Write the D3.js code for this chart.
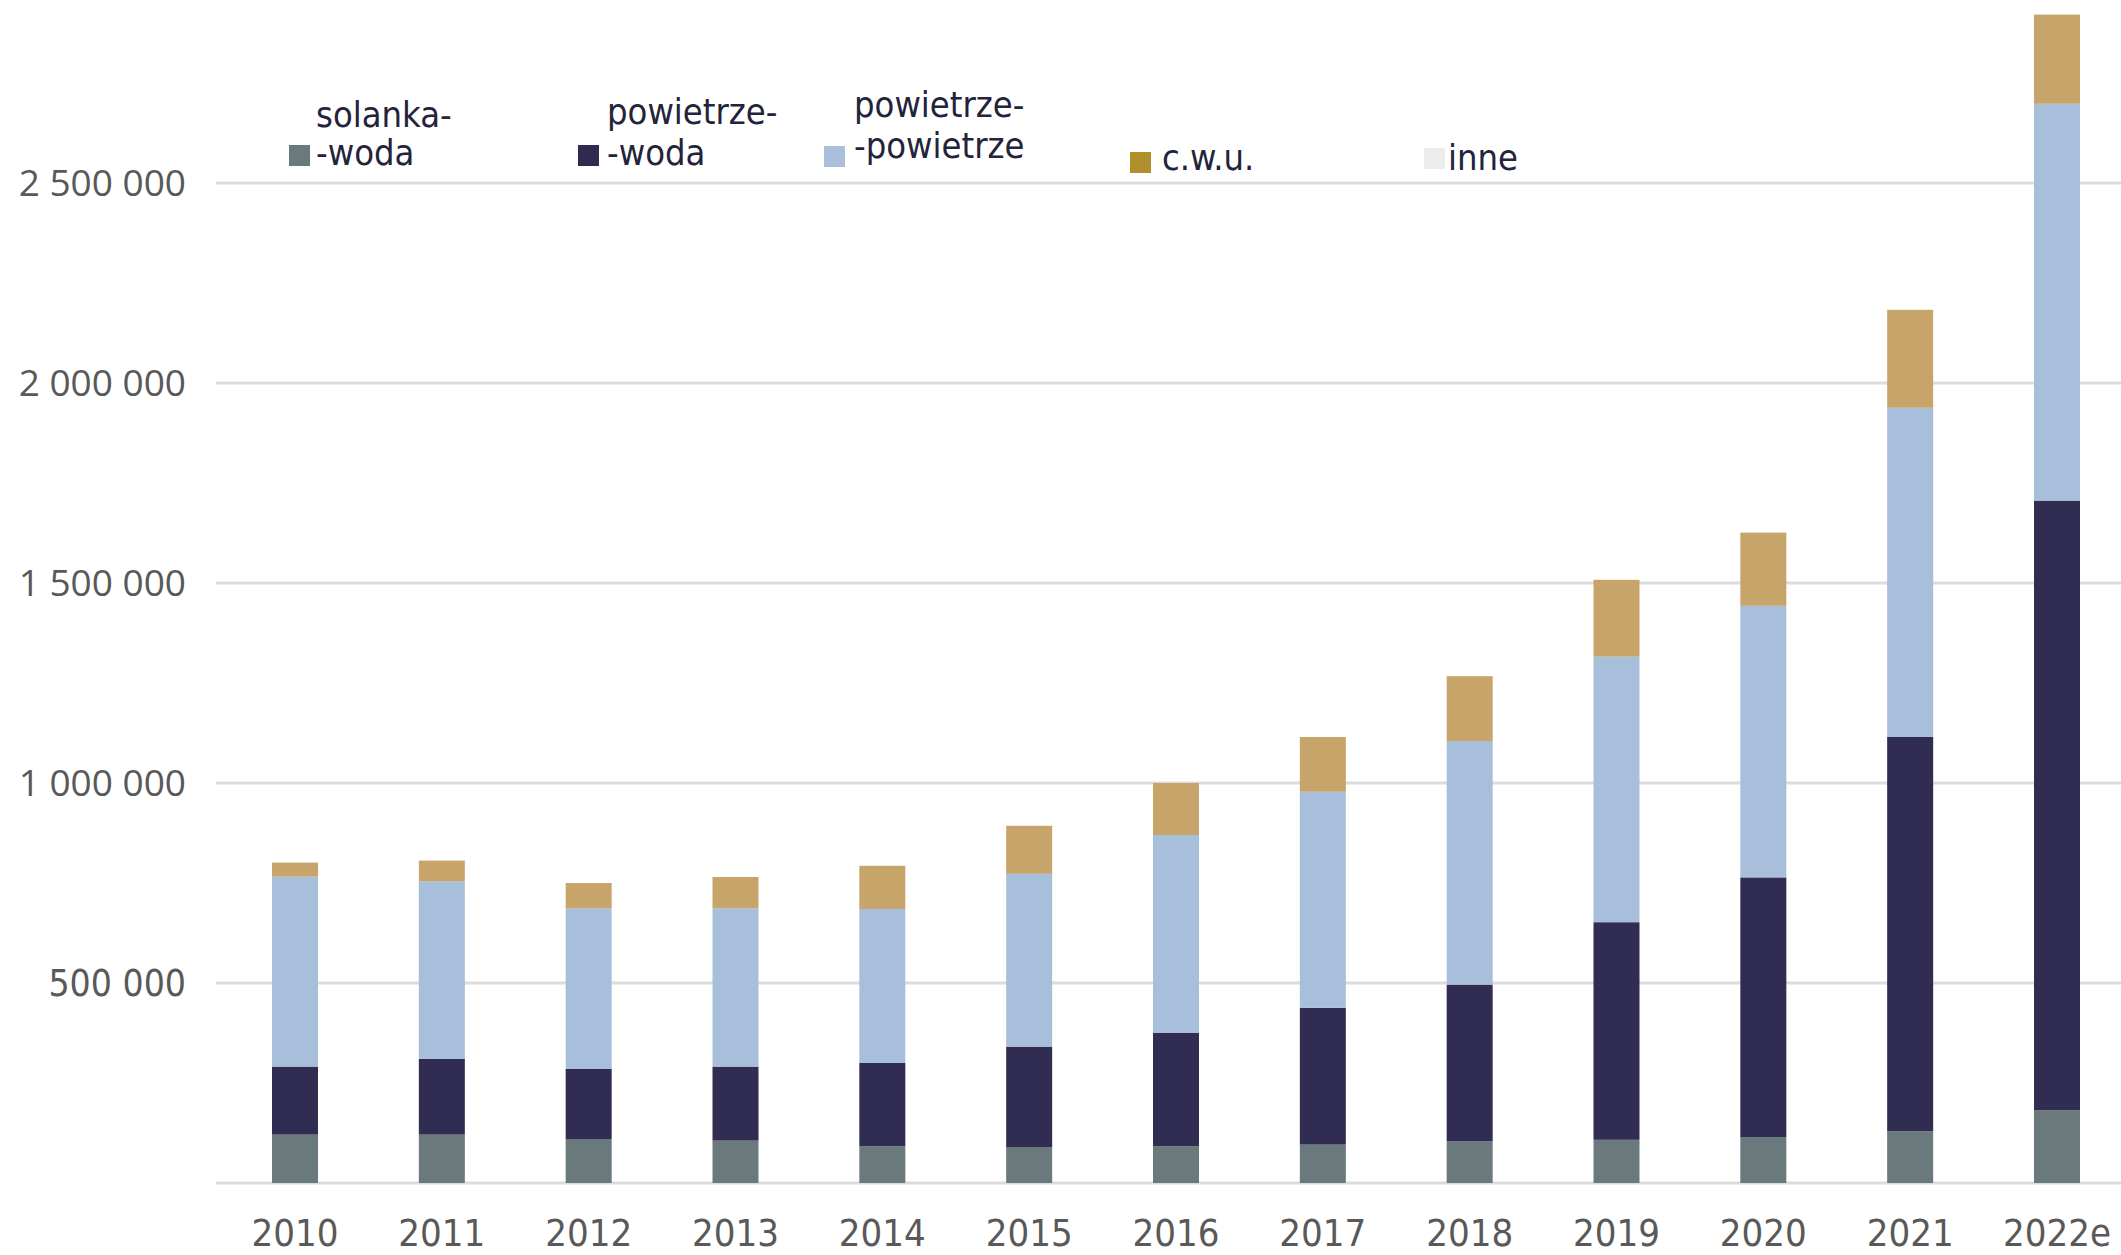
<!DOCTYPE html>
<html>
  <head>
    <meta charset="utf-8" />
    <title>Pompy ciepła – sprzedaż</title>
    <script src="https://d3js.org/d3.v7.min.js"></script>
    <style>
      body {
        margin: 0;
        background: #ffffff;
      }
      .ytick {
        font-family: "Open Sans", "DejaVu Sans", sans-serif;
        font-size: 37px;
        fill: #595959;
      }
      .ytick.narrow,
      .xtick {
        font-family: "Liberation Sans Narrow", "DejaVu Sans Condensed", sans-serif;
        fill: #595959;
      }
      .legend text {
        font-family: "Liberation Sans Narrow", "DejaVu Sans Condensed", sans-serif;
        font-size: 36px;
        fill: #23233a;
      }
    </style>
  </head>
  <body>
    <div id="chart"></div>
    <script>
      // values
      const years = ["2010", "2011", "2012", "2013", "2014", "2015", "2016", "2017", "2018", "2019", "2020", "2021", "2022e"];
      const solankaWoda = [121000, 121000, 110000, 106000, 92000, 90000, 92000, 96000, 104000, 108000, 115000, 129000, 182000];
      const powietrzeWoda = [170000, 189000, 175000, 185000, 208000, 251000, 283000, 342000, 392000, 544000, 649000, 986000, 1524000];
      const powietrzePowietrze = [475000, 444000, 402000, 396000, 385000, 432000, 495000, 540000, 609000, 664000, 679000, 823000, 992000];
      const cwu = [35000, 52000, 63000, 78000, 108000, 120000, 130000, 137000, 162000, 192000, 183000, 245000, 223000];
      const inne = [0, 0, 0, 0, 0, 0, 0, 0, 0, 0, 0, 0, 0];
      const yTicks = [500000, 1000000, 1500000, 2000000, 2500000];

      const keys = ["sw", "pw", "pp", "cwu", "inne"];
      const barColor = { sw: "#6a7a7c", pw: "#312d52", pp: "#a8bfdc", cwu: "#c6a46a", inne: "#ececec" };

      const data = years.map((yr, i) => ({
        year: yr,
        sw: solankaWoda[i],
        pw: powietrzeWoda[i],
        pp: powietrzePowietrze[i],
        cwu: cwu[i],
        inne: inne[i],
      }));

      const width = 2121,
        height = 1255;

      const svg = d3
        .select("#chart")
        .append("svg")
        .attr("width", width)
        .attr("height", height);

      svg.append("rect").attr("width", width).attr("height", height).attr("fill", "#fff");

      const x = d3.scalePoint().domain(years).range([295, 2057]);
      const barW = 46;
      const y = d3.scaleLinear().domain([0, 3000000]).range([1183, -17]);

      const fmt = d3.formatLocale({ decimal: ",", thousands: " ", grouping: [3] }).format(",d");

      // gridlines (incl. baseline)
      svg
        .append("g")
        .selectAll("line")
        .data([0].concat(yTicks))
        .join("line")
        .attr("x1", 216)
        .attr("x2", width)
        .attr("y1", (d) => y(d))
        .attr("y2", (d) => y(d))
        .attr("stroke", "#dcdcdc")
        .attr("stroke-width", 3);

      // y labels
      svg
        .append("g")
        .selectAll("text")
        .data(yTicks)
        .join("text")
        .attr("class", (d) => (d === 500000 ? "ytick narrow" : "ytick"))
        .style("font-size", (d) => (d === 500000 ? "37px" : null))
        .attr("x", 186)
        .attr("y", (d) => y(d))
        .attr("dy", "0.36em")
        .attr("text-anchor", "end")
        .text((d) => fmt(d));

      // stacked bars
      const series = d3.stack().keys(keys)(data);
      svg
        .append("g")
        .selectAll("g")
        .data(series)
        .join("g")
        .attr("fill", (s) => barColor[s.key])
        .selectAll("rect")
        .data((s) => s)
        .join("rect")
        .attr("x", (d) => x(d.data.year) - barW / 2)
        .attr("width", barW)
        .attr("y", (d) => y(d[1]))
        .attr("height", (d) => y(d[0]) - y(d[1]));

      // x labels
      svg
        .append("g")
        .selectAll("text")
        .data(years)
        .join("text")
        .attr("class", "xtick")
        .style("font-size", "38px")
        .attr("x", (d) => x(d))
        .attr("y", 1246)
        .attr("text-anchor", "middle")
        .text((d) => d);

      // legend
      const legendItems = [
        { lines: ["solanka-", "-woda"], color: "#6a7a7c", sx: 289, sy: 145, tx: 316, ty: [127, 165] },
        { lines: ["powietrze-", "-woda"], color: "#2f2b50", sx: 578, sy: 145, tx: 607, ty: [124, 165] },
        { lines: ["powietrze-", "-powietrze"], color: "#a9bfdc", sx: 824, sy: 146, tx: 854, ty: [117, 158] },
        { lines: ["c.w.u."], color: "#b08f2d", sx: 1130, sy: 152, tx: 1162, ty: [170] },
        { lines: ["inne"], color: "#ececec", sx: 1424, sy: 148, tx: 1448, ty: [170] },
      ];
      const legend = svg.append("g").attr("class", "legend");
      legendItems.forEach((it) => {
        legend
          .append("rect")
          .attr("x", it.sx)
          .attr("y", it.sy)
          .attr("width", 21)
          .attr("height", 21)
          .attr("fill", it.color);
        it.lines.forEach((ln, j) => {
          legend.append("text").attr("x", it.tx).attr("y", it.ty[j]).text(ln);
        });
      });
    </script>
  </body>
</html>
